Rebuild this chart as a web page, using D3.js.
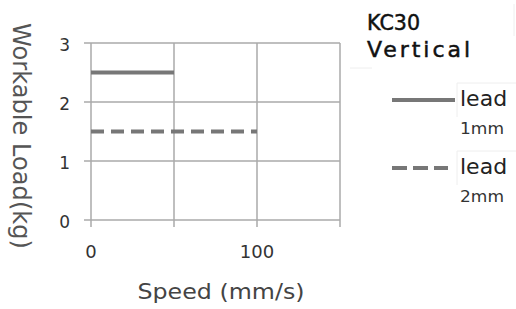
<!DOCTYPE html>
<html>
<head>
<meta charset="utf-8">
<script src="https://cdn.jsdelivr.net/npm/d3@7"></script>
<style>
  body { margin: 0; background: #fff; }
  svg { display: block; }
</style>
</head>
<body>
<svg id="chart" width="516" height="309"></svg>
<script>
// Workable load vs speed, KC30 vertical
var xTicks = [0, 50, 100, 150];
var xTickLabels = ["0", "", "100", ""];
var yTicks = [0, 1, 2, 3];
var lead1Speed = [0, 50];
var lead1Load = [2.5, 2.5];
var lead2Speed = [0, 100];
var lead2Load = [1.5, 1.5];
var seriesNames = ["lead", "lead"];
var seriesSubs = ["1mm", "2mm"];

(function () {
    "use strict";

    var svg = d3.select("#chart");
    var x = d3.scaleLinear().domain([0, 150]).range([91, 340]);
    var y = d3.scaleLinear().domain([0, 3]).range([220, 43]);
    var grid = "#aaa";
    var lineCol = "#777";
    var font = "DejaVu Sans";

    // grid
    svg.append("g").selectAll("line").data(yTicks).join("line")
        .attr("x1", 84).attr("x2", x(150))
        .attr("y1", function (d) { return y(d); })
        .attr("y2", function (d) { return y(d); })
        .attr("stroke", grid).attr("stroke-width", 1.5);
    svg.append("g").selectAll("line").data(xTicks).join("line")
        .attr("x1", function (d) { return x(d); })
        .attr("x2", function (d) { return x(d); })
        .attr("y1", y(3)).attr("y2", 227)
        .attr("stroke", grid).attr("stroke-width", 1.5);

    // tick labels
    svg.append("g").selectAll("text").data(yTicks).join("text")
        .attr("x", 70).attr("y", function (d) { return y(d) + 8; })
        .attr("text-anchor", "end")
        .attr("font-family", font).attr("font-size", 17).attr("fill", "#333")
        .text(function (d) { return d; });
    svg.append("g").selectAll("text").data(xTicks).join("text")
        .attr("x", function (d) { return x(d); }).attr("y", 258)
        .attr("text-anchor", "middle")
        .attr("font-family", font).attr("font-size", 18).attr("fill", "#333")
        .text(function (d, i) { return xTickLabels[i]; });

    // series
    var line = d3.line()
        .x(function (d) { return x(d[0]); })
        .y(function (d) { return y(d[1]); });
    svg.append("path")
        .attr("d", line(d3.zip(lead1Speed, lead1Load)))
        .attr("fill", "none").attr("stroke", lineCol).attr("stroke-width", 4);
    svg.append("path")
        .attr("d", line(d3.zip(lead2Speed, lead2Load)))
        .attr("fill", "none").attr("stroke", lineCol).attr("stroke-width", 4)
        .attr("stroke-dasharray", "13,7");

    // axis titles
    svg.append("text")
        .attr("transform", "translate(13,136) rotate(90)")
        .attr("text-anchor", "middle")
        .attr("font-family", font).attr("font-size", 25).attr("fill", "#555")
        .attr("textLength", 226).attr("lengthAdjust", "spacingAndGlyphs")
        .text("Workable Load(kg)");
    svg.append("text")
        .attr("x", 221).attr("y", 299).attr("text-anchor", "middle")
        .attr("font-family", font).attr("font-size", 22).attr("fill", "#444")
        .attr("textLength", 167).attr("lengthAdjust", "spacingAndGlyphs")
        .text("Speed (mm/s)");

    // title block
    svg.append("path").attr("d", "M514,4V36M350,68H372")
        .attr("stroke", "#eee").attr("fill", "none");
    svg.append("text").attr("x", 367).attr("y", 30)
        .attr("font-family", font).attr("font-size", 22).attr("fill", "#111")
        .attr("stroke", "#111").attr("stroke-width", 0.5)
        .attr("textLength", 53).attr("lengthAdjust", "spacingAndGlyphs")
        .text("KC30");
    svg.append("text").attr("x", 367).attr("y", 57)
        .attr("font-family", font).attr("font-size", 22).attr("fill", "#111")
        .attr("stroke", "#111").attr("stroke-width", 0.5)
        .attr("textLength", 103).attr("lengthAdjust", "spacing")
        .text("Vertical");

    // legend
    var legY = [100, 168];
    var legLen = [63, 56];
    var dashes = [null, "15,6"];
    var leg = svg.append("g").selectAll("g").data(seriesNames).join("g");
    leg.append("path")
        .attr("d", function (d, i) { return "M457," + (legY[i] - 17) + "V" + (legY[i] + 17) + "M457," + (legY[i] - 17) + "H516"; })
        .attr("stroke", "#eee").attr("fill", "none");
    leg.append("line")
        .attr("x1", 392).attr("x2", function (d, i) { return 392 + legLen[i]; })
        .attr("y1", function (d, i) { return legY[i]; })
        .attr("y2", function (d, i) { return legY[i]; })
        .attr("stroke", lineCol).attr("stroke-width", 4)
        .attr("stroke-dasharray", function (d, i) { return dashes[i]; });
    leg.append("text")
        .attr("x", 460).attr("y", function (d, i) { return legY[i] + 6; })
        .attr("font-family", font).attr("font-size", 22).attr("fill", "#222")
        .text(function (d) { return d; });
    leg.append("text")
        .attr("x", 460).attr("y", function (d, i) { return legY[i] + 34; })
        .attr("font-family", font).attr("font-size", 15).attr("fill", "#333")
        .attr("textLength", 44).attr("lengthAdjust", "spacingAndGlyphs")
        .text(function (d, i) { return seriesSubs[i]; });
})();
</script>
</body>
</html>
